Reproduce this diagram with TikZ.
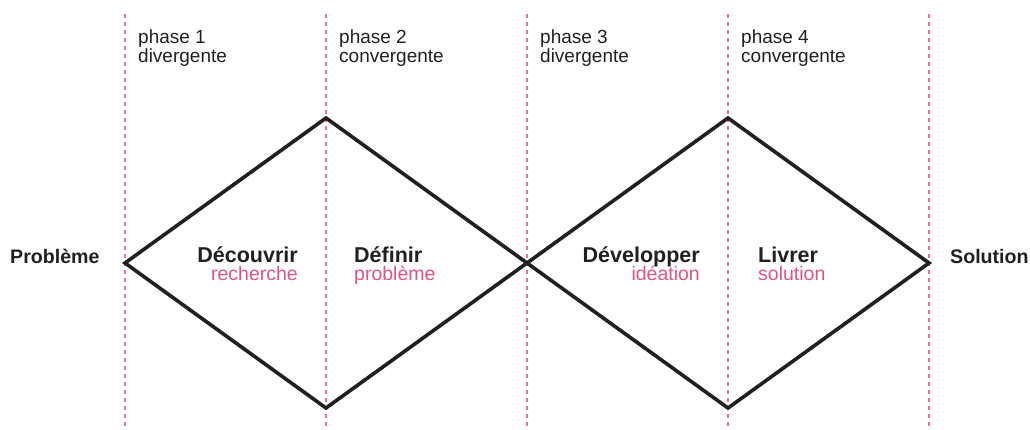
\documentclass[tikz,border=0pt]{standalone}
\usepackage{fontspec}
\setmainfont{Liberation Sans}
\definecolor{ink}{HTML}{231F20}
\definecolor{rose}{HTML}{E0557F}
\definecolor{guide}{HTML}{E8739A}
\begin{document}
\begin{tikzpicture}[x=1pt,y=-1pt,
  guideline/.style={guide,line width=1.3pt,dash pattern=on 4pt off 4pt},
  diamondline/.style={ink,line width=3.6pt,line join=miter},
  phasetxt/.style={ink,inner sep=0pt,anchor=base west,font=\fontsize{19}{20}\selectfont},
  endtxt/.style={ink,inner sep=0pt,font=\bfseries\fontsize{19.6}{20}\selectfont},
  steptitle/.style={ink,inner sep=0pt,font=\bfseries\fontsize{21.5}{22}\selectfont},
  stepsub/.style={rose,inner sep=0pt,font=\fontsize{19.5}{20}\selectfont}]
\useasboundingbox (0,0) rectangle (1030,429);
% guides
\foreach \gx [count=\i] in {125,326,527,728,929}{
  \coordinate (gt\i) at (\gx,14);
  \coordinate (gb\i) at (\gx,426);
  \draw[guideline] (gt\i) -- (gb\i);
}
% diamonds
\coordinate (L) at (125,263);
\coordinate (T1) at (326,118);
\coordinate (B1) at (326,408);
\coordinate (M) at (527,263);
\coordinate (T2) at (728,118);
\coordinate (B2) at (728,408);
\coordinate (R) at (929,263);
\draw[diamondline] (L) -- (T1) -- (M) -- (T2) -- (R) -- (B2) -- (M) -- (B1) -- cycle;
% phase labels
\node[phasetxt] (p1a) at (138,43) {phase 1};
\node[phasetxt] (p1b) at (138,62) {divergente};
\node[phasetxt] (p2a) at (339,43) {phase 2};
\node[phasetxt] (p2b) at (339,62) {convergente};
\node[phasetxt] (p3a) at (540,43) {phase 3};
\node[phasetxt] (p3b) at (540,62) {divergente};
\node[phasetxt] (p4a) at (741,43) {phase 4};
\node[phasetxt] (p4b) at (741,62) {convergente};
% ends
\node[endtxt,anchor=base west] (prob) at (10,263) {Problème};
\node[endtxt,anchor=base west] (sol) at (950,263) {Solution};
% steps
\node[steptitle,anchor=base east] (s1) at (298,262) {Découvrir};
\node[stepsub,anchor=base east] (s1b) at (298,280) {recherche};
\node[steptitle,anchor=base west] (s2) at (354,262) {Définir};
\node[stepsub,anchor=base west] (s2b) at (354,280) {problème};
\node[steptitle,anchor=base east] (s3) at (700,262) {Développer};
\node[stepsub,anchor=base east] (s3b) at (700,280) {idéation};
\node[steptitle,anchor=base west] (s4) at (758,262) {Livrer};
\node[stepsub,anchor=base west] (s4b) at (758,280) {solution};
\end{tikzpicture}
\end{document}
